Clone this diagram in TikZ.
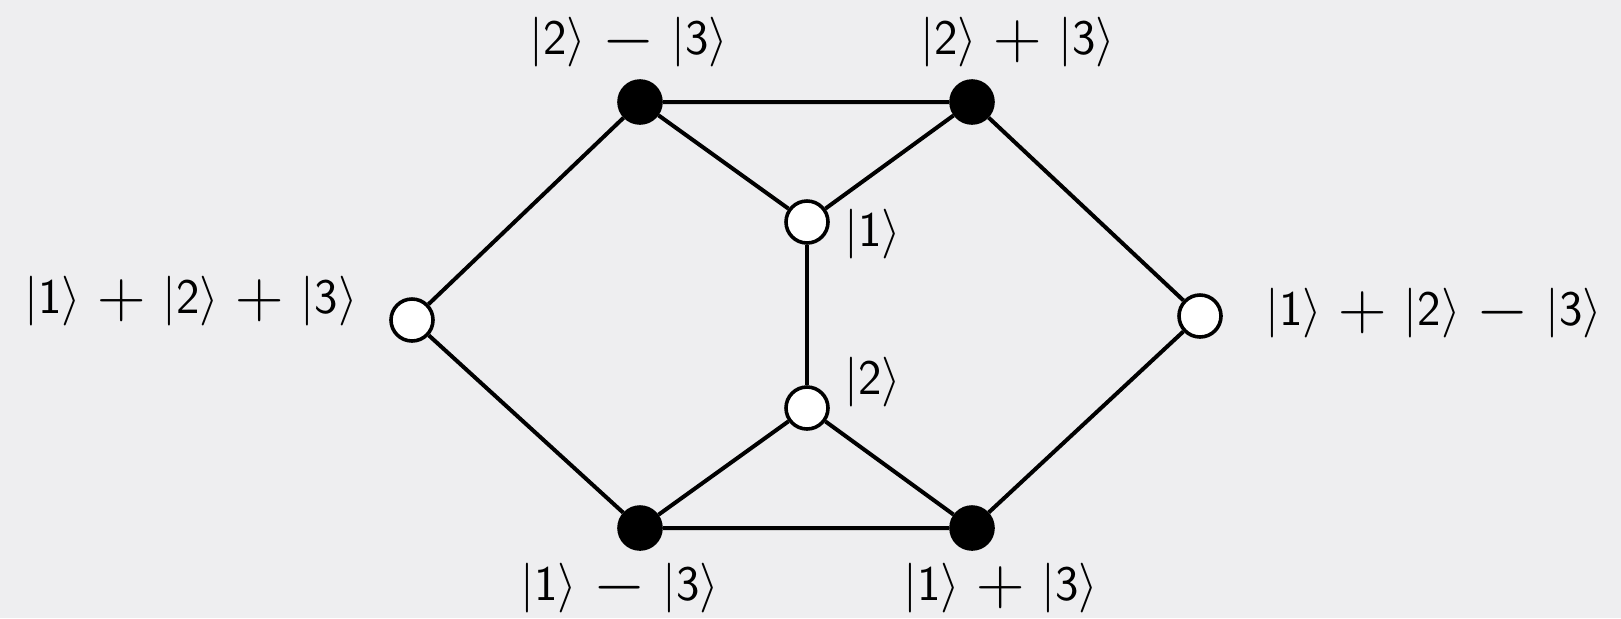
\documentclass[tikz,border=0pt]{standalone}
\usepackage{amsmath}
\usetikzlibrary{positioning}
\definecolor{bggray}{RGB}{238,238,240}
\newcommand{\ket}[1]{|\mathsf{#1}\rangle}
\newcommand{\pl}{\mathbin{\vcenter{\hbox{\scalebox{1.35}{$+$}}}}}
\newcommand{\mi}{\mathbin{\vcenter{\hbox{\scalebox{1.35}{$-$}}}}}

\begin{document}
\begin{tikzpicture}[x=0.5pt,y=-0.5pt,line width=2pt,
every node/.style={circle,draw,line width=1.8pt,minimum size=21pt,inner sep=0pt},
lbl/.style={draw=none,rectangle,minimum size=0pt,inner sep=0pt,
  font=\fontsize{25}{29}\selectfont}]
\fill[bggray] (0,0) rectangle (1621,618);
\useasboundingbox (0,0) rectangle (1621,618);
\medmuskip=6mu
\node[fill=black] (S23m) at (640,102) {};
\node[fill=black] (S23p) at (972,102) {};
\node[fill=white] (S1) at (807,222) {};
\node[fill=white] (S2) at (807,408) {};
\node[fill=white] (S123p) at (412,320) {};
\node[fill=white] (S123m) at (1200,316) {};
\node[fill=black] (S13m) at (640,528) {};
\node[fill=black] (S13p) at (972,528) {};
\draw (S123p)--(S23m)--(S23p)--(S123m)--(S13p)--(S13m)--(S123p);
\draw (S23m)--(S1)--(S23p);
\draw (S13m)--(S2)--(S13p);
\draw (S1)--(S2);
\node[lbl] (L23m) at (629,42) {$\ket2\mi\ket3$};
\node[lbl] (L23p) at (1018,42) {$\ket2\pl\ket3$};
\node[lbl] (L1) at (873,234) {$\ket1$};
\node[lbl] (L2) at (873,382) {$\ket2$};
\node[lbl] (L123p) at (191,301) {$\ket1\pl\ket2\pl\ket3$};
\node[lbl] (L123m) at (1434,313) {$\ket1\pl\ket2\mi\ket3$};
\node[lbl] (L13m) at (620,588) {$\ket1\mi\ket3$};
\node[lbl] (L13p) at (1001,588) {$\ket1\pl\ket3$};
\end{tikzpicture}
\end{document}
